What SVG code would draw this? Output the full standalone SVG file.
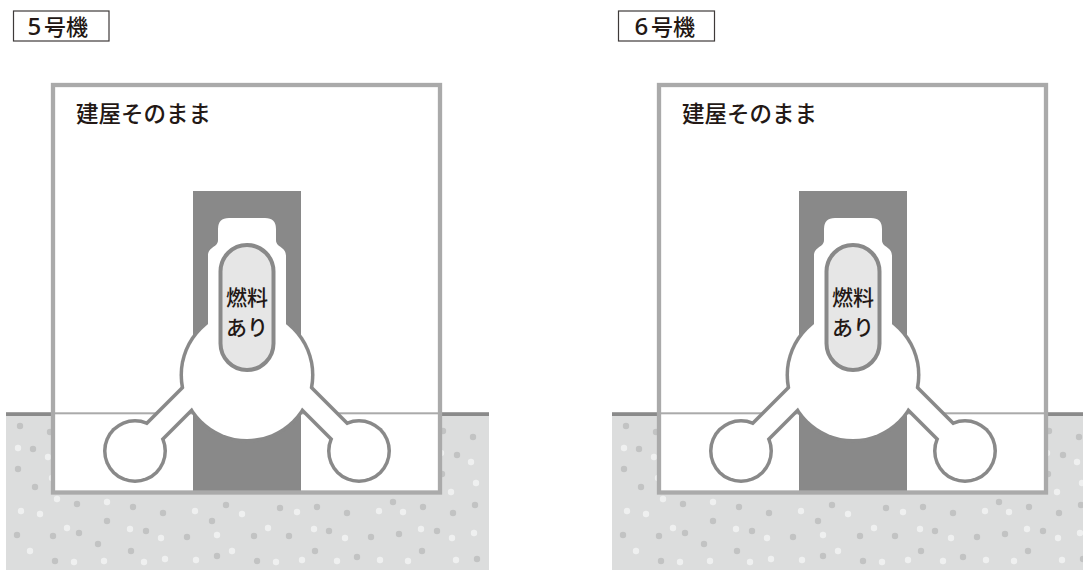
<svg xmlns="http://www.w3.org/2000/svg" xmlns:xlink="http://www.w3.org/1999/xlink" width="1083" height="570" viewBox="0 0 1083 570">
  <style>
    .jp { font-family: "Noto Sans CJK JP", "Noto Sans", sans-serif; fill: #231815; font-weight: 500; }
    .num { font-family: "Noto Sans", "Liberation Sans", sans-serif; font-size: 24px; }
    .tag { fill: #ffffff; stroke: #3e3a39; stroke-width: 1.2; }
    .soil { fill: #dcdddd; }
    .soil-edge { fill: #8a8a8a; }
    .floor-line { fill: #aaaaaa; }
    .bldg-fill { fill: #ffffff; }
    .bldg-wall { fill: none; stroke: #aaaaaa; stroke-width: 4.3; }
    .pedestal { fill: #898989; }
    .outline { fill: #898989; }
    .outline-arm { stroke: #898989; stroke-width: 26; fill: none; }
    .inner { fill: #ffffff; }
    .inner-arm { stroke: #ffffff; stroke-width: 19; fill: none; }
    .vessel { fill: #e6e6e6; stroke: #898989; stroke-width: 4; }
    .dot-d { fill: #c2c3c3; }
    .dot-l { fill: #eff0f0; }
  </style>
  <defs>
    <!-- scattered gravel dots in the soil -->
    <g id="gravel">
      <g class="dot-d">
        <circle cx="20" cy="426" r="3.2"/><circle cx="50" cy="432" r="3.2"/><circle cx="33" cy="449" r="3.2"/>
        <circle cx="18" cy="469" r="3.2"/><circle cx="35" cy="487" r="3.2"/><circle cx="77" cy="504" r="3.2"/>
        <circle cx="133" cy="507" r="3.2"/><circle cx="163" cy="513" r="3.2"/><circle cx="107" cy="521" r="3.2"/>
        <circle cx="17" cy="535" r="3.2"/><circle cx="53" cy="536" r="3.2"/><circle cx="79" cy="533" r="3.2"/>
        <circle cx="146" cy="531" r="3.2"/><circle cx="98" cy="544" r="3.2"/><circle cx="131" cy="551" r="3.2"/>
        <circle cx="55" cy="561" r="3.2"/><circle cx="226" cy="505" r="3.2"/><circle cx="212" cy="521" r="3.2"/>
        <circle cx="280" cy="508" r="3.2"/><circle cx="317" cy="507" r="3.2"/><circle cx="187" cy="537" r="3.2"/>
        <circle cx="254" cy="536" r="3.2"/><circle cx="289" cy="536" r="3.2"/><circle cx="329" cy="531" r="3.2"/>
        <circle cx="217" cy="556" r="3.2"/><circle cx="257" cy="561" r="3.2"/><circle cx="315" cy="551" r="3.2"/>
        <circle cx="443" cy="431" r="3.2"/><circle cx="473" cy="437" r="3.2"/><circle cx="457" cy="455" r="3.2"/>
        <circle cx="442" cy="474" r="3.2"/><circle cx="393" cy="502" r="3.2"/><circle cx="423" cy="507" r="3.2"/>
        <circle cx="475" cy="505" r="3.2"/><circle cx="347" cy="513" r="3.2"/><circle cx="453" cy="513" r="3.2"/>
        <circle cx="371" cy="537" r="3.2"/><circle cx="399" cy="534" r="3.2"/><circle cx="437" cy="531" r="3.2"/>
        <circle cx="422" cy="551" r="3.2"/><circle cx="357" cy="557" r="3.2"/><circle cx="477" cy="559" r="3.2"/>
      </g>
      <g class="dot-l">
        <circle cx="18" cy="448" r="3.2"/><circle cx="48" cy="457" r="3.2"/><circle cx="52" cy="478" r="3.2"/>
        <circle cx="57" cy="499" r="3.2"/><circle cx="107" cy="502" r="3.2"/><circle cx="21" cy="511" r="3.2"/>
        <circle cx="40" cy="514" r="3.2"/><circle cx="67" cy="528" r="3.2"/><circle cx="130" cy="529" r="3.2"/>
        <circle cx="161" cy="538" r="3.2"/><circle cx="30" cy="551" r="3.2"/><circle cx="74" cy="562" r="3.2"/>
        <circle cx="104" cy="561" r="3.2"/><circle cx="144" cy="562" r="3.2"/><circle cx="165" cy="559" r="3.2"/>
        <circle cx="195" cy="511" r="3.2"/><circle cx="242" cy="514" r="3.2"/><circle cx="297" cy="512" r="3.2"/>
        <circle cx="268" cy="528" r="3.2"/><circle cx="217" cy="535" r="3.2"/><circle cx="314" cy="529" r="3.2"/>
        <circle cx="232" cy="551" r="3.2"/><circle cx="196" cy="560" r="3.2"/><circle cx="276" cy="562" r="3.2"/>
        <circle cx="302" cy="560" r="3.2"/><circle cx="441" cy="453" r="3.2"/><circle cx="471" cy="462" r="3.2"/>
        <circle cx="476" cy="483" r="3.2"/><circle cx="451" cy="492" r="3.2"/><circle cx="379" cy="511" r="3.2"/>
        <circle cx="403" cy="512" r="3.2"/><circle cx="421" cy="529" r="3.2"/><circle cx="345" cy="538" r="3.2"/>
        <circle cx="452" cy="538" r="3.2"/><circle cx="474" cy="533" r="3.2"/><circle cx="337" cy="561" r="3.2"/>
        <circle cx="380" cy="560" r="3.2"/><circle cx="408" cy="561" r="3.2"/><circle cx="456" cy="560" r="3.2"/>
      </g>
    </g>

    <!-- containment vessel: flask-shaped drywell with vent pipes and suppression torus -->
    <g id="containment">
      <g class="outline">
        <circle cx="247" cy="375" r="67.5"/>
        <circle cx="135" cy="451" r="32"/>
        <circle cx="359" cy="451" r="32"/>
      </g>
      <line class="outline-arm" x1="135" y1="451" x2="215" y2="371"/>
      <line class="outline-arm" x1="359" y1="451" x2="279" y2="371"/>
      <line class="inner-arm" x1="135" y1="451" x2="215" y2="371"/>
      <line class="inner-arm" x1="359" y1="451" x2="279" y2="371"/>
      <g class="inner">
        <circle cx="247" cy="375" r="64"/>
        <circle cx="135" cy="451" r="28.5"/>
        <circle cx="359" cy="451" r="28.5"/>
        <path d="M218 240 L218 229 Q218 218 229 218 L265 218 Q276 218 276 229 L276 240 C276 248 286 246 286 256 L286 340 L208 340 L208 256 C208 246 218 248 218 240 Z"/>
      </g>
    </g>
  </defs>

  <!-- Unit 5 -->
  <g id="unit5">
    <g id="unit5-ground">
      <rect class="soil" x="6" y="412" width="483" height="158"/>
      <use xlink:href="#gravel"/>
      <rect class="soil-edge" x="6" y="412.3" width="483" height="3.7"/>
    </g>
    <g id="unit5-building">
      <rect class="bldg-fill" x="53" y="85" width="387" height="407.5"/>
      <rect class="floor-line" x="53" y="412.3" width="387" height="2"/>
    </g>
    <g id="unit5-pedestal">
      <rect class="pedestal" x="193" y="191" width="108" height="303"/>
    </g>
    <g id="unit5-pcv">
      <use xlink:href="#containment"/>
    </g>
    <g id="unit5-rpv">
      <rect class="vessel" x="220.5" y="245" width="53" height="125" rx="26.5"/>
      <text class="jp" x="247" y="305" font-size="21" text-anchor="middle">燃料</text>
      <text class="jp" x="247" y="335" font-size="21" text-anchor="middle">あり</text>
    </g>
    <rect class="bldg-wall" x="53" y="85" width="387" height="407.5"/>
    <text class="jp" x="76" y="121.5" font-size="22.5">建屋そのまま</text>
    <g id="unit5-tag">
      <rect class="tag" x="13.5" y="11" width="95.5" height="30"/>
      <text class="jp" y="34.5" font-size="22"><tspan class="num" x="27.5">5</tspan><tspan x="44">号機</tspan></text>
    </g>
  </g>

  <!-- Unit 6 -->
  <g id="unit6" transform="translate(606 0)">
    <g id="unit6-ground">
      <rect class="soil" x="6" y="412" width="483" height="158"/>
      <use xlink:href="#gravel"/>
      <rect class="soil-edge" x="6" y="412.3" width="483" height="3.7"/>
    </g>
    <g id="unit6-building">
      <rect class="bldg-fill" x="53" y="85" width="387" height="407.5"/>
      <rect class="floor-line" x="53" y="412.3" width="387" height="2"/>
    </g>
    <g id="unit6-pedestal">
      <rect class="pedestal" x="193" y="191" width="108" height="303"/>
    </g>
    <g id="unit6-pcv">
      <use xlink:href="#containment"/>
    </g>
    <g id="unit6-rpv">
      <rect class="vessel" x="220.5" y="245" width="53" height="125" rx="26.5"/>
      <text class="jp" x="247" y="305" font-size="21" text-anchor="middle">燃料</text>
      <text class="jp" x="247" y="335" font-size="21" text-anchor="middle">あり</text>
    </g>
    <rect class="bldg-wall" x="53" y="85" width="387" height="407.5"/>
    <text class="jp" x="76" y="121.5" font-size="22.5">建屋そのまま</text>
    <g id="unit6-tag">
      <rect class="tag" x="12.5" y="11" width="96" height="30"/>
      <text class="jp" y="34.5" font-size="22"><tspan class="num" x="28.5">6</tspan><tspan x="45">号機</tspan></text>
    </g>
  </g>
</svg>
